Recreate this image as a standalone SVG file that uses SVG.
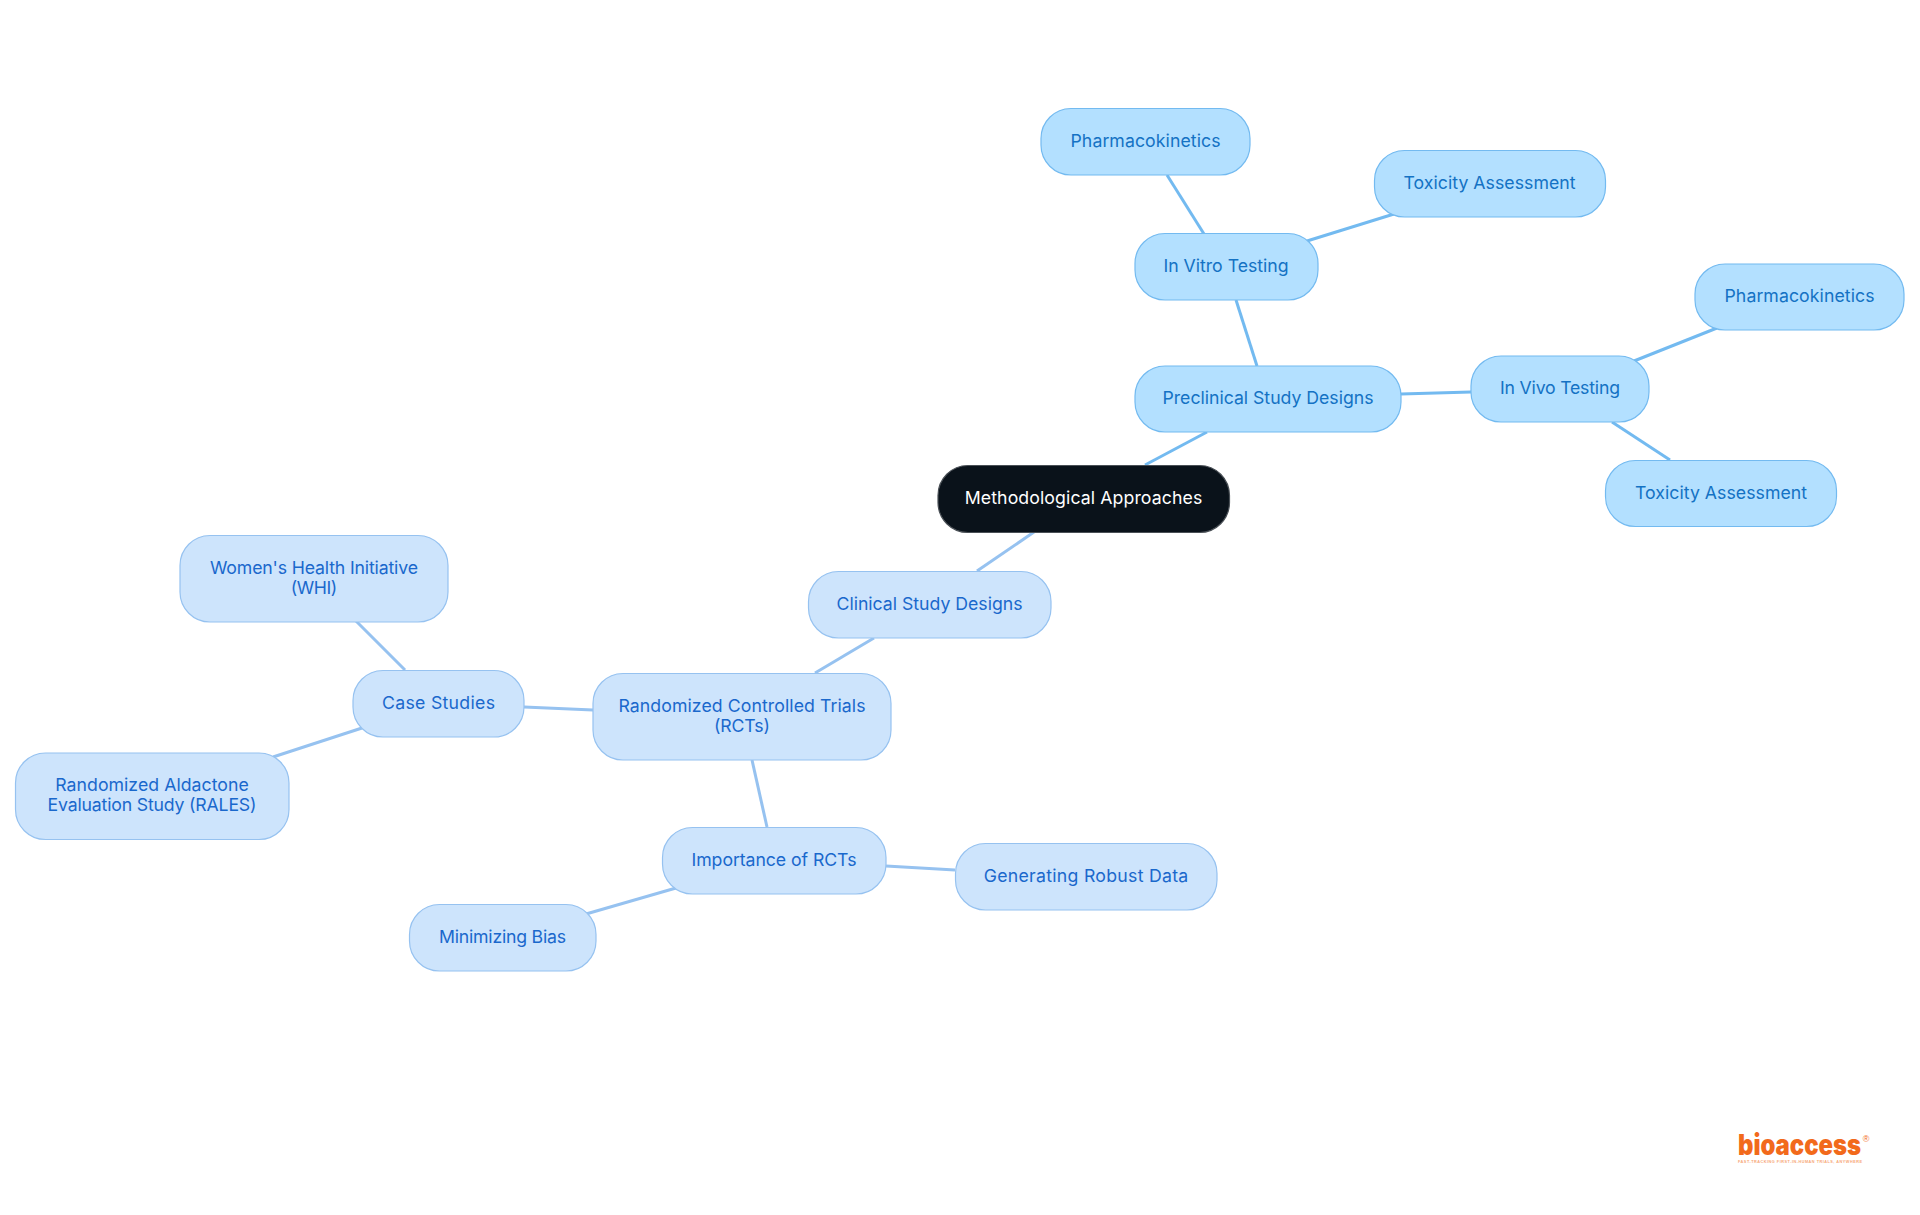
<svg xmlns="http://www.w3.org/2000/svg" width="1920" height="1215" viewBox="0 0 1920 1215">
<style>
text{font-family:"Inter","Noto Sans",sans-serif;font-size:17.7px;font-weight:400;text-anchor:middle;dominant-baseline:central}
rect.n{rx:30px;stroke-width:1.2}
.a rect{fill:#B3E0FF;stroke:#73BAF0}
.a text{fill:#1472C4}
.b rect{fill:#CDE4FC;stroke:#96C2F0}
.b text{fill:#1A68CC}
.r rect{fill:#0A121A;stroke:#4A5056}
.r text{fill:#FFFFFF}
#connectors line{stroke-width:3;fill:none}
.ca{stroke:#73BAF0}.cb{stroke:#96C2F0}
</style>
<rect width="1920" height="1215" fill="#fff"/>
<g id="connectors">
<line class="ca" x1="1145" y1="465" x2="1207" y2="432"/>
<line class="ca" x1="1257" y1="366" x2="1236" y2="300"/>
<line class="ca" x1="1204" y1="234" x2="1167" y2="175"/>
<line class="ca" x1="1307" y1="241" x2="1394" y2="214"/>
<line class="ca" x1="1401" y1="394" x2="1471" y2="392"/>
<line class="ca" x1="1634" y1="361" x2="1717" y2="328"/>
<line class="ca" x1="1612" y1="422" x2="1670" y2="460"/>
<line class="cb" x1="1034" y1="532" x2="977" y2="571"/>
<line class="cb" x1="874" y1="638" x2="815" y2="673"/>
<line class="cb" x1="593" y1="710" x2="524" y2="707"/>
<line class="cb" x1="405" y1="670" x2="356" y2="621"/>
<line class="cb" x1="362" y1="728" x2="273" y2="757"/>
<line class="cb" x1="752" y1="760" x2="767" y2="827"/>
<line class="cb" x1="886" y1="866" x2="955" y2="870"/>
<line class="cb" x1="676" y1="888" x2="586" y2="914"/>
</g>
<g id="root" class="r"><rect class="n" x="938" y="465.500" width="291.500" height="67"/><text x="1083.500" y="497" textLength="237.500">Methodological Approaches</text></g>
<g id="preclinical" class="a"><rect class="n" x="1135" y="366" width="266" height="66"/><text x="1268" y="397.500" textLength="211">Preclinical Study Designs</text></g>
<g id="invitro" class="a"><rect class="n" x="1135" y="233.500" width="183" height="66.500"/><text x="1226" y="265.500" textLength="125">In Vitro Testing</text></g>
<g id="pk1" class="a"><rect class="n" x="1041" y="108.500" width="209" height="66.500"/><text x="1145.500" y="140.500" textLength="150">Pharmacokinetics</text></g>
<g id="tox1" class="a"><rect class="n" x="1374.500" y="150.500" width="231" height="66.500"/><text x="1489.500" y="182.500" textLength="172">Toxicity Assessment</text></g>
<g id="invivo" class="a"><rect class="n" x="1471" y="356" width="178" height="66"/><text x="1560" y="387.500" textLength="120">In Vivo Testing</text></g>
<g id="pk2" class="a"><rect class="n" x="1695" y="264" width="209" height="66"/><text x="1799.500" y="295.500" textLength="150">Pharmacokinetics</text></g>
<g id="tox2" class="a"><rect class="n" x="1605.500" y="460.500" width="231" height="66"/><text x="1721" y="492" textLength="172">Toxicity Assessment</text></g>
<g id="clinical" class="b"><rect class="n" x="808.500" y="571.500" width="242.500" height="66.500"/><text x="929.500" y="603" textLength="186">Clinical Study Designs</text></g>
<g id="rct" class="b"><rect class="n" x="593" y="673.500" width="298" height="86.500"/><text x="742" y="705.500" textLength="247">Randomized Controlled Trials</text><text x="742" y="725.500" textLength="56">(RCTs)</text></g>
<g id="case" class="b"><rect class="n" x="353" y="670.500" width="171" height="66.500"/><text x="438.500" y="702" textLength="113">Case Studies</text></g>
<g id="whi" class="b"><rect class="n" x="180" y="535.500" width="268" height="86.500"/><text x="314" y="567" textLength="208">Women's Health Initiative</text><text x="314" y="587" textLength="46.500">(WHI)</text></g>
<g id="rales" class="b"><rect class="n" x="15.500" y="753" width="273.500" height="86.500"/><text x="152" y="784.500" textLength="193.500">Randomized Aldactone</text><text x="152" y="804.500" textLength="209">Evaluation Study (RALES)</text></g>
<g id="importance" class="b"><rect class="n" x="662.500" y="827.500" width="223.500" height="66.500"/><text x="774" y="859" textLength="165">Importance of RCTs</text></g>
<g id="generating" class="b"><rect class="n" x="955.500" y="843.500" width="261.500" height="66.500"/><text x="1086" y="875" textLength="204.500">Generating Robust Data</text></g>
<g id="minimizing" class="b"><rect class="n" x="409.500" y="904.500" width="186.500" height="66.500"/><text x="502.500" y="936.500" textLength="127">Minimizing Bias</text></g>
<g id="logo">
<text x="1799.500" y="1155" style="font-family:Inter,sans-serif;font-size:28px;font-weight:900;fill:#F26A1B;dominant-baseline:auto" textLength="123" lengthAdjust="spacingAndGlyphs">bioaccess</text>
<text x="1866" y="1142" style="font-family:'Liberation Sans',sans-serif;font-size:9px;font-weight:400;fill:#F26A1B;dominant-baseline:auto">®</text>
<text x="1800" y="1162.500" style="font-family:'Liberation Sans',sans-serif;font-size:3.800px;font-weight:700;fill:#F7A878;dominant-baseline:auto" textLength="124">FAST-TRACKING FIRST-IN-HUMAN TRIALS, ANYWHERE</text>
</g>
</svg>
